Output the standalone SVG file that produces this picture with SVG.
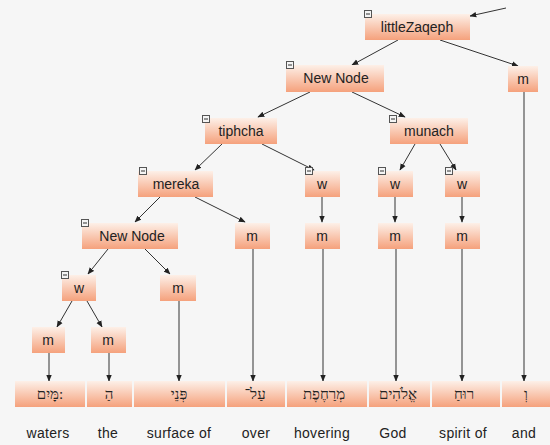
<svg xmlns="http://www.w3.org/2000/svg" width="550" height="445" viewBox="0 0 550 445">
  <defs>
    <linearGradient id="peach" x1="0" y1="0" x2="0" y2="1">
      <stop offset="0" stop-color="#fdf0e8"/>
      <stop offset="1" stop-color="#f5a17c"/>
    </linearGradient>
    <marker id="arr" viewBox="0 0 10 10" refX="9" refY="5" markerWidth="7" markerHeight="7" orient="auto-start-reverse" markerUnits="userSpaceOnUse">
      <path d="M0,1 L10,5 L0,9 z" fill="#222"/>
    </marker>
    <g id="tog">
      <rect x="0.5" y="0.5" width="7" height="7" fill="#f4f4f4" stroke="#555" stroke-width="1"/>
      <line x1="2" y1="4" x2="6" y2="4" stroke="#333" stroke-width="1"/>
    </g>
  </defs>
  <style>
    .box { fill: url(#peach); stroke: none; }
    .lbl { font-family: "Liberation Sans", Arial, sans-serif; font-size: 14px; fill: #222; text-anchor: middle; }
    .heb { font-family: "Liberation Serif", "DejaVu Serif", serif; font-size: 15px; fill: #222; text-anchor: middle; }
    .eng { font-family: "Liberation Sans", Arial, sans-serif; font-size: 14px; letter-spacing: 0.3px; fill: #222; text-anchor: middle; }
    .edge { stroke: #333; stroke-width: 1; fill: none; marker-end: url(#arr); }
  </style>

  <rect width="550" height="445" fill="#f6f6f6"/>

  <!-- connectors -->
  <g id="connectors">
    <line class="edge" x1="506" y1="8" x2="470" y2="16"/>
    <line class="edge" x1="398" y1="40" x2="352" y2="65"/>
    <line class="edge" x1="440" y1="40" x2="518" y2="66"/>
    <line class="edge" x1="310" y1="92" x2="258" y2="117"/>
    <line class="edge" x1="352" y1="92" x2="405" y2="117"/>
    <line class="edge" x1="222" y1="144" x2="195" y2="170"/>
    <line class="edge" x1="262" y1="144" x2="314" y2="170"/>
    <line class="edge" x1="415" y1="144" x2="400" y2="170"/>
    <line class="edge" x1="440" y1="144" x2="456" y2="170"/>
    <line class="edge" x1="160" y1="197" x2="135" y2="222"/>
    <line class="edge" x1="195" y1="197" x2="245" y2="222"/>
    <line class="edge" x1="322" y1="197" x2="322" y2="222"/>
    <line class="edge" x1="395" y1="197" x2="395" y2="222"/>
    <line class="edge" x1="462" y1="197" x2="462" y2="222"/>
    <line class="edge" x1="108" y1="249" x2="88" y2="274"/>
    <line class="edge" x1="145" y1="249" x2="170" y2="274"/>
    <line class="edge" x1="72" y1="301" x2="57" y2="327"/>
    <line class="edge" x1="87" y1="301" x2="102" y2="327"/>
    <line class="edge" x1="49" y1="353" x2="49" y2="381"/>
    <line class="edge" x1="109" y1="353" x2="109" y2="381"/>
    <line class="edge" x1="179" y1="301" x2="179" y2="381"/>
    <line class="edge" x1="253" y1="249" x2="253" y2="381"/>
    <line class="edge" x1="323" y1="249" x2="323" y2="381"/>
    <line class="edge" x1="396" y1="249" x2="396" y2="381"/>
    <line class="edge" x1="462" y1="249" x2="462" y2="381"/>
    <line class="edge" x1="524" y1="92" x2="524" y2="381"/>
  </g>

  <!-- tree nodes -->
  <g id="littleZaqeph">
    <rect class="box" x="365" y="14" width="105" height="26"/>
    <text class="lbl" x="417" y="32">littleZaqeph</text>
    <use href="#tog" x="364" y="10"/>
  </g>
  <g id="m-top">
    <rect class="box" x="508" y="66" width="30" height="26"/>
    <text class="lbl" x="523" y="84">m</text>
  </g>
  <g id="newnode-1">
    <rect class="box" x="286" y="65" width="98" height="27"/>
    <text class="lbl" x="336" y="83">New Node</text>
    <use href="#tog" x="286" y="61"/>
  </g>
  <g id="tiphcha">
    <rect class="box" x="205" y="118" width="72" height="26"/>
    <text class="lbl" x="241" y="136">tiphcha</text>
    <use href="#tog" x="202" y="115"/>
  </g>
  <g id="munach">
    <rect class="box" x="390" y="118" width="78" height="26"/>
    <text class="lbl" x="429" y="136">munach</text>
    <use href="#tog" x="389" y="115"/>
  </g>
  <g id="mereka">
    <rect class="box" x="138" y="171" width="75" height="26"/>
    <text class="lbl" x="176" y="189">mereka</text>
    <use href="#tog" x="139" y="167"/>
  </g>
  <g id="w-1">
    <rect class="box" x="305" y="171" width="35" height="26"/>
    <text class="lbl" x="322" y="189">w</text>
    <use href="#tog" x="305" y="167"/>
  </g>
  <g id="w-2">
    <rect class="box" x="378" y="171" width="35" height="26"/>
    <text class="lbl" x="395" y="189">w</text>
    <use href="#tog" x="378" y="167"/>
  </g>
  <g id="w-3">
    <rect class="box" x="445" y="171" width="35" height="26"/>
    <text class="lbl" x="462" y="189">w</text>
    <use href="#tog" x="445" y="167"/>
  </g>
  <g id="newnode-2">
    <rect class="box" x="82" y="223" width="96" height="26"/>
    <text class="lbl" x="132" y="241">New Node</text>
    <use href="#tog" x="81" y="219"/>
  </g>
  <g id="m-a">
    <rect class="box" x="235" y="223" width="35" height="26"/>
    <text class="lbl" x="252" y="241">m</text>
  </g>
  <g id="m-b">
    <rect class="box" x="305" y="223" width="35" height="26"/>
    <text class="lbl" x="322" y="241">m</text>
  </g>
  <g id="m-c">
    <rect class="box" x="378" y="223" width="35" height="26"/>
    <text class="lbl" x="395" y="241">m</text>
  </g>
  <g id="m-d">
    <rect class="box" x="445" y="223" width="35" height="26"/>
    <text class="lbl" x="462" y="241">m</text>
  </g>
  <g id="w-4">
    <rect class="box" x="62" y="275" width="34" height="26"/>
    <text class="lbl" x="79" y="293">w</text>
    <use href="#tog" x="61" y="271"/>
  </g>
  <g id="m-e">
    <rect class="box" x="160" y="275" width="36" height="26"/>
    <text class="lbl" x="178" y="293">m</text>
  </g>
  <g id="m-f">
    <rect class="box" x="32" y="327" width="33" height="26"/>
    <text class="lbl" x="48" y="345">m</text>
  </g>
  <g id="m-g">
    <rect class="box" x="91" y="327" width="35" height="26"/>
    <text class="lbl" x="108" y="345">m</text>
  </g>

  <!-- Hebrew word cells -->
  <g id="words">
    <g id="w-mayim"><rect class="box" x="15" y="381" width="70" height="26"/><text class="heb" x="50" y="399">מָּיִם:</text></g>
    <g id="w-ha"><rect class="box" x="87" y="381" width="45" height="26"/><text class="heb" x="109" y="399">הַ</text></g>
    <g id="w-pney"><rect class="box" x="134" y="381" width="91" height="26"/><text class="heb" x="179" y="399">פְּנֵי</text></g>
    <g id="w-al"><rect class="box" x="227" y="381" width="58" height="26"/><text class="heb" x="255" y="399">עַל־</text></g>
    <g id="w-merachefet"><rect class="box" x="287" y="381" width="80" height="26"/><text class="heb" x="324" y="399">מְרַחֶפֶת</text></g>
    <g id="w-elohim"><rect class="box" x="369" y="381" width="61" height="26"/><text class="heb" x="398" y="399">אֱלֹהִים</text></g>
    <g id="w-ruach"><rect class="box" x="432" y="381" width="68" height="26"/><text class="heb" x="464" y="399">רוּחַ</text></g>
    <g id="w-ve"><rect class="box" x="502" y="381" width="48" height="26"/><text class="heb" x="526" y="399">וְ</text></g>
  </g>

  <!-- English glosses -->
  <g id="glosses">
    <text class="eng" x="48" y="438">waters</text>
    <text class="eng" x="108" y="438">the</text>
    <text class="eng" x="179" y="438">surface of</text>
    <text class="eng" x="256" y="438">over</text>
    <text class="eng" x="322" y="438">hovering</text>
    <text class="eng" x="393" y="438">God</text>
    <text class="eng" x="463" y="438">spirit of</text>
    <text class="eng" x="524" y="438">and</text>
  </g>
</svg>
